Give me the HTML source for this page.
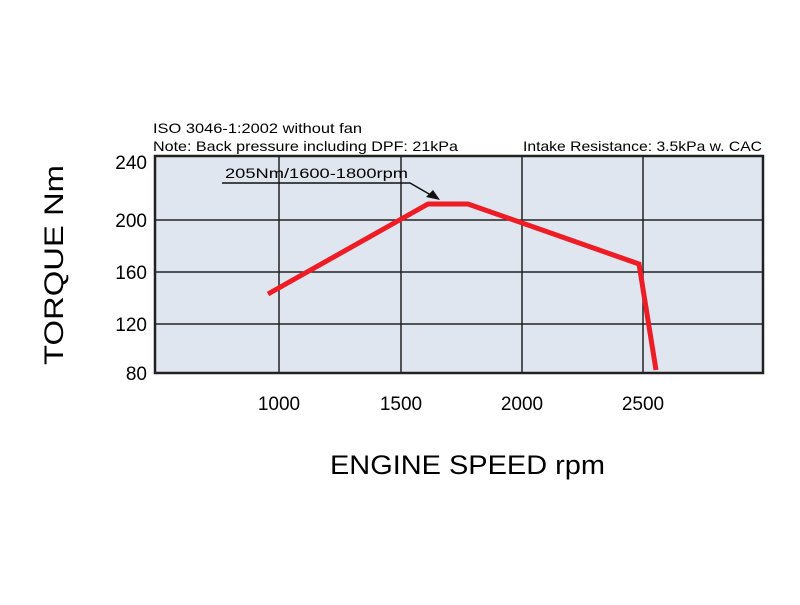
<!DOCTYPE html>
<html><head><style>body{margin:0;background:#fff}</style></head><body>
<svg width="800" height="600" xmlns="http://www.w3.org/2000/svg" font-family="Liberation Sans, sans-serif">
<rect x="155" y="156" width="608" height="217" fill="#dfe6ef" stroke="#222" stroke-width="2.5"/>
<g stroke="#222" stroke-width="1.5">
<line x1="279" y1="156" x2="279" y2="373"/><line x1="401" y1="156" x2="401" y2="373"/>
<line x1="522" y1="156" x2="522" y2="373"/><line x1="643" y1="156" x2="643" y2="373"/>
<line x1="155" y1="220" x2="763" y2="220"/><line x1="155" y1="272" x2="763" y2="272"/>
<line x1="155" y1="324" x2="763" y2="324"/>
</g>
<polyline points="268,294 428,204 468,204 639,264 656,370" fill="none" stroke="#ee1c25" stroke-width="5"/>
<polyline points="222,183 410,183 436,198" fill="none" stroke="#111" stroke-width="1.5"/>
<polygon points="440,200 426,197 433,190" fill="#111"/>
<text x="225" y="178" font-size="14" textLength="183" lengthAdjust="spacingAndGlyphs">205Nm/1600-1800rpm</text>
<text x="153" y="133" font-size="14" textLength="209" lengthAdjust="spacingAndGlyphs">ISO 3046-1:2002 without fan</text>
<text x="153" y="151" font-size="14" textLength="305" lengthAdjust="spacingAndGlyphs">Note:  Back pressure including DPF: 21kPa</text>
<text x="523" y="151" font-size="14" textLength="239" lengthAdjust="spacingAndGlyphs">Intake Resistance:  3.5kPa w. CAC</text>
<g font-size="19" text-anchor="end">
<text x="147" y="169">240</text><text x="147" y="227">200</text><text x="147" y="279">160</text>
<text x="147" y="331">120</text><text x="147" y="380">80</text></g>
<g font-size="19" text-anchor="middle">
<text x="279" y="410">1000</text><text x="401" y="410">1500</text>
<text x="522" y="410">2000</text><text x="643" y="410">2500</text></g>
<text x="330" y="474" font-size="27" textLength="275" lengthAdjust="spacingAndGlyphs">ENGINE SPEED  rpm</text>
<text transform="translate(63,365) rotate(-90)" font-size="27" textLength="200" lengthAdjust="spacingAndGlyphs">TORQUE Nm</text>
</svg>
</body></html>
